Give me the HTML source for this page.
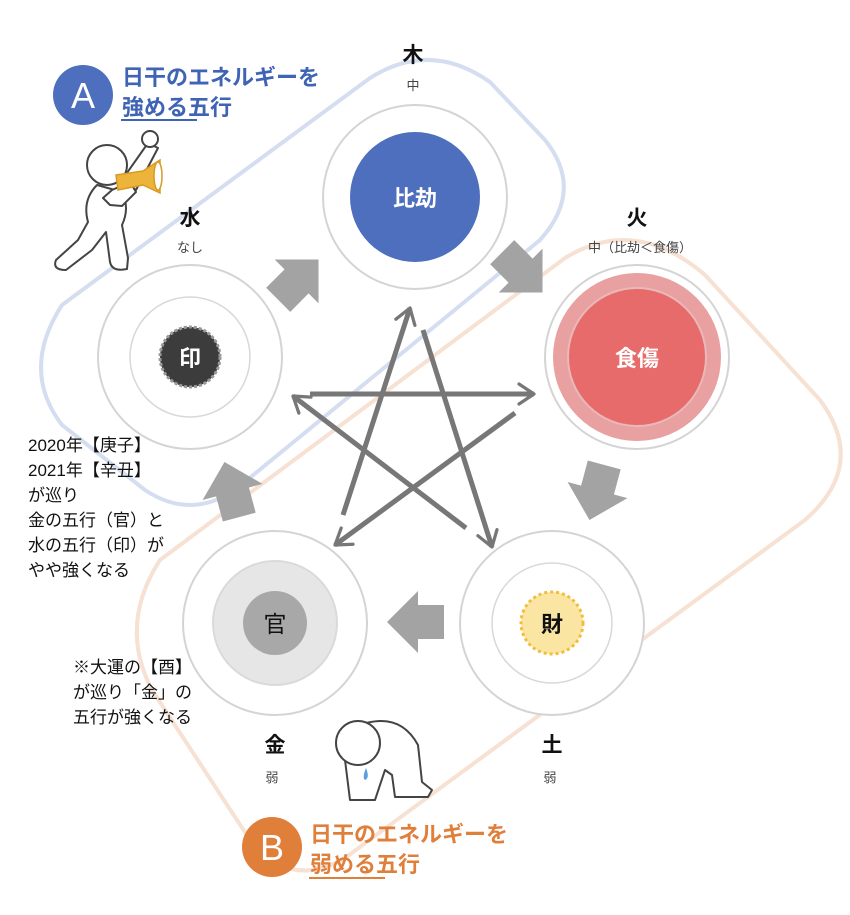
<!DOCTYPE html>
<html><head><meta charset="utf-8"><style>
html,body{margin:0;padding:0;background:#fff;}
svg{display:block;font-family:"Liberation Sans","Noto Sans CJK JP",sans-serif;}
</style></head><body>
<svg width="850" height="915" viewBox="0 0 850 915" xmlns="http://www.w3.org/2000/svg">
<defs>
<marker id="ah" viewBox="0 0 20 20" refX="16" refY="10" markerWidth="5" markerHeight="5" orient="auto" markerUnits="strokeWidth">
<path d="M4,2 L16,10 L4,18" fill="none" stroke="#777" stroke-width="2.6" stroke-linecap="round" stroke-linejoin="round"/>
</marker>
<path id="barr" d="M-17,28 L17,28 L17,2 L31,2 L0,-29 L-31,2 L-17,2 Z" fill="#a3a3a3"/>
</defs>

<!-- blue group outline -->
<path d="M62,305 L370,78 Q430,40 490,82 L545,140 Q585,190 540,240 L235,490 Q190,520 145,490 L62,425 Q20,370 62,305 Z" fill="none" stroke="#d5def0" stroke-width="4"/>
<!-- orange group outline -->
<path d="M160,560 L565,258 Q635,215 705,275 L820,400 Q868,465 805,520 L345,858 Q290,890 250,840 L152,690 Q118,625 160,560 Z" fill="none" stroke="#f6e1d2" stroke-width="4"/>

<!-- circles -->
<circle cx="415" cy="197" r="92" fill="#fff" stroke="#d4d4d4" stroke-width="2"/>
<circle cx="415" cy="197" r="65" fill="#4e6fbe"/>
<text x="415" y="206" text-anchor="middle" font-size="22" font-weight="bold" fill="#fff">比劫</text>

<circle cx="637" cy="357" r="92" fill="#fff" stroke="#d4d4d4" stroke-width="2"/>
<circle cx="637" cy="357" r="84" fill="#e8a0a0"/>
<circle cx="637" cy="357" r="69" fill="#e76b6b" stroke="#eab8b8" stroke-width="2"/>
<text x="637" y="366" text-anchor="middle" font-size="22" font-weight="bold" fill="#fff">食傷</text>

<circle cx="552" cy="623" r="92" fill="#fff" stroke="#d4d4d4" stroke-width="2"/>
<circle cx="552" cy="623" r="60" fill="#fff" stroke="#d8d8d8" stroke-width="1.5"/>
<circle cx="552" cy="623" r="31" fill="#fae6a2" stroke="#f2bd3c" stroke-width="3" stroke-dasharray="3 3"/>
<text x="552" y="632" text-anchor="middle" font-size="22" font-weight="bold" fill="#111">財</text>

<circle cx="275" cy="623" r="92" fill="#fff" stroke="#d4d4d4" stroke-width="2"/>
<circle cx="275" cy="623" r="62" fill="#e6e6e6" stroke="#dadada" stroke-width="2"/>
<circle cx="275" cy="623" r="32" fill="#a8a8a8"/>
<text x="275" y="632" text-anchor="middle" font-size="23" fill="#111">官</text>

<circle cx="190" cy="357" r="92" fill="#fff" stroke="#d4d4d4" stroke-width="2"/>
<circle cx="190" cy="357" r="60" fill="#fff" stroke="#d8d8d8" stroke-width="1.5"/>
<circle cx="190" cy="357" r="30" fill="#3c3c3c" stroke="#999" stroke-width="3" stroke-dasharray="3 2"/>
<text x="190" y="366" text-anchor="middle" font-size="22" font-weight="bold" fill="#fff">印</text>

<!-- block arrows -->
<use href="#barr" transform="translate(298,280) rotate(45)"/>
<use href="#barr" transform="translate(522,272) rotate(135)"/>
<use href="#barr" transform="translate(597,492) rotate(195)"/>
<use href="#barr" transform="translate(416,622) rotate(270)"/>
<use href="#barr" transform="translate(232,490) rotate(345)"/>

<!-- star -->
<g stroke="#777" stroke-width="5" fill="none" stroke-linecap="butt">
<line x1="343" y1="515" x2="410" y2="308" marker-end="url(#ah)"/>
<line x1="423" y1="330" x2="492" y2="547" marker-end="url(#ah)"/>
<line x1="466" y1="528" x2="293" y2="396" marker-end="url(#ah)"/>
<line x1="310" y1="394" x2="534" y2="394" marker-end="url(#ah)"/>
<line x1="515" y1="413" x2="335" y2="545" marker-end="url(#ah)"/>
</g>

<!-- element labels -->
<g text-anchor="middle" fill="#111">
<text x="413" y="62" font-size="21" font-weight="bold">木</text>
<text x="413" y="90" font-size="13" fill="#444">中</text>
<text x="190" y="225" font-size="21" font-weight="bold">水</text>
<text x="190" y="252" font-size="13" fill="#444">なし</text>
<text x="637" y="225" font-size="21" font-weight="bold">火</text>
<text x="640" y="252" font-size="13" fill="#444">中（比劫＜食傷）</text>
<text x="275" y="752" font-size="21" font-weight="bold">金</text>
<text x="272" y="782" font-size="13" fill="#444">弱</text>
<text x="552" y="752" font-size="21" font-weight="bold">土</text>
<text x="550" y="782" font-size="13" fill="#444">弱</text>
</g>

<!-- notes -->
<g font-size="17" fill="#111">
<text x="28" y="451">2020年【庚子】</text>
<text x="28" y="476">2021年【辛丑】</text>
<text x="28" y="501">が巡り</text>
<text x="28" y="526">金の五行（官）と</text>
<text x="28" y="551">水の五行（印）が</text>
<text x="28" y="576">やや強くなる</text>
<text x="73" y="673">※大運の【酉】</text>
<text x="73" y="698">が巡り「金」の</text>
<text x="73" y="723">五行が強くなる</text>
</g>

<!-- A title -->
<circle cx="83" cy="95" r="30" fill="#4e6fbe"/>
<text x="83" y="108" text-anchor="middle" font-size="36" fill="#fff">A</text>
<g font-size="22" font-weight="bold" fill="#3f63b5">
<text x="122" y="85">日干のエネルギーを</text>
<text x="122" y="115">強める五行</text>
</g>
<line x1="121" y1="120" x2="197" y2="120" stroke="#3f63b5" stroke-width="2"/>

<!-- B title -->
<circle cx="272" cy="847" r="30" fill="#e07f3a"/>
<text x="272" y="860" text-anchor="middle" font-size="36" fill="#fff">B</text>
<g font-size="22" font-weight="bold" fill="#e07f3a">
<text x="310" y="842">日干のエネルギーを</text>
<text x="310" y="872">弱める五行</text>
</g>
<line x1="309" y1="878" x2="385" y2="878" stroke="#e07f3a" stroke-width="2"/>

<!-- cheering figure -->
<g stroke="#444" stroke-width="2" fill="#fff" stroke-linejoin="round">
<path d="M97,185 Q82,200 88,222 L78,240 L56,260 Q52,270 66,270 L92,250 L106,232 L110,262 Q112,272 127,269 L128,258 L122,225 Q130,208 122,192 Z"/>
<path d="M122,180 L148,143 L158,148 L136,190 Z"/>
<circle cx="150" cy="139" r="8"/>
<circle cx="107" cy="165" r="20"/>
<path d="M103,198 L112,190 L130,182 L136,192 L122,206 L110,205 Z"/>
</g>
<path d="M116,175 L143,171 L160,160 L160,193 L143,185 L118,190 Z" fill="#edb43c" stroke="#d99a20" stroke-width="1.5"/>
<ellipse cx="158" cy="176" rx="4" ry="14" fill="#fff" stroke="#d99a20" stroke-width="1.5"/>

<!-- crying figure -->
<g stroke="#444" stroke-width="2" fill="#fff" stroke-linejoin="round">
<path d="M352,728 Q398,708 418,745 L422,782 L432,790 L428,797 L395,797 L392,775 L385,770 L375,800 L350,800 L345,760 Z"/>
<circle cx="358" cy="743" r="22"/>
</g>
<path d="M366,768 Q362,778 365,780 Q370,778 366,768 Z" fill="#5a9ee0"/>
</svg>
</body></html>
